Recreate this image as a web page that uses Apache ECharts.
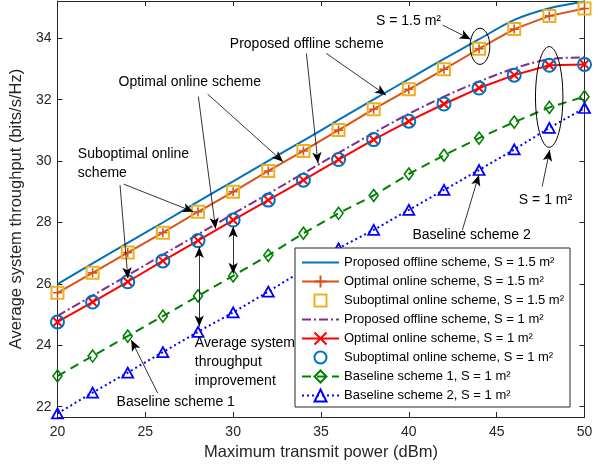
<!DOCTYPE html>
<html><head><meta charset="utf-8">
<script src="https://cdn.jsdelivr.net/npm/echarts@6/dist/echarts.min.js"></script>
<style>html,body{margin:0;padding:0;background:#fff}#c{width:605px;height:469px}</style>
</head><body><div id="c"></div>
<script>
// ---------- data ----------
const powerDbm = [20,22,24,26,28,30,32,34,36,38,40,42,44,46,48,50];
const offline15    = [25.99,26.67,27.34,28.00,28.68,29.34,30.01,30.67,31.34,32.01,32.67,33.33,33.97,34.60,34.98,35.20];
const optimal15    = [25.71,26.36,27.02,27.67,28.35,29.00,29.68,30.33,31.01,31.69,32.34,32.99,33.66,34.30,34.73,34.97];
const suboptimal15 = [25.71,26.36,27.02,27.67,28.35,29.00,29.68,30.33,31.01,31.69,32.34,32.99,33.66,34.30,34.73,34.97];
const offline1     = [24.96,25.62,26.28,26.95,27.61,28.28,28.94,29.60,30.27,30.92,31.54,32.10,32.59,33.02,33.32,33.38];
const optimal1     = [24.76,25.41,26.07,26.75,27.41,28.08,28.73,29.38,30.05,30.70,31.30,31.86,32.38,32.80,33.12,33.15];
const suboptimal1  = [24.76,25.41,26.07,26.75,27.41,28.08,28.73,29.38,30.05,30.70,31.30,31.86,32.38,32.80,33.12,33.15];
const baseline1    = [23.00,23.65,24.30,24.95,25.61,26.26,26.93,27.65,28.30,28.88,29.58,30.19,30.75,31.27,31.75,32.10];
const baseline2    = [21.78,22.46,23.11,23.78,24.44,25.07,25.75,26.45,27.16,27.76,28.41,29.06,29.71,30.38,31.08,31.73];
const seriesNames = [
  'Proposed offline scheme, S = 1.5 m²',
  'Optimal online scheme, S = 1.5 m²',
  'Suboptimal online scheme, S = 1.5 m²',
  'Proposed offline scheme, S = 1 m²',
  'Optimal online scheme, S = 1 m²',
  'Suboptimal online scheme, S = 1 m²',
  'Baseline scheme 1, S = 1 m²',
  'Baseline scheme 2, S = 1 m²'
];
const xTicks = [20,25,30,35,40,45,50];
const yTicks = [22,24,26,28,30,32,34];
const xLabel = 'Maximum transmit power (dBm)';
const yLabel = 'Average system throughput (bits/s/Hz)';
// annotations (data coordinates)
const annotLabels = ['Proposed offline scheme','Optimal online scheme','Suboptimal online\nscheme',
  'Average system\nthroughput\nimprovement','Baseline scheme 1','Baseline scheme 2','S = 1.5 m²','S = 1 m²'];
const annotPos = [[34.19,33.81],[27.53,32.57],[21.16,29.91],[27.82,23.45],[26.73,22.16],[43.57,27.59],[39.98,34.55],[47.78,28.73]];
const annotAlign = ['center','center','left','left','center','center','center','center'];
const arrowsSingle = [
  [[35.30,33.51],[38.70,32.15]],
  [[34.17,33.51],[34.83,29.93]],
  [[28.02,32.10],[29.00,27.80]],
  [[28.55,32.18],[32.84,29.98]],
  [[23.77,29.25],[27.74,28.35]],
  [[23.56,29.22],[24.01,26.18]],
  [[25.71,22.44],[24.20,24.17]],
  [[43.05,27.76],[43.99,29.55]],
  [[41.92,34.43],[43.52,33.97]],
  [[47.59,29.17],[48.02,30.36]]
];
const arrowsDouble = [
  [[28.07,27.20],[28.07,24.61]],
  [[30.00,27.87],[30.00,26.33]]
];
const ellipses = [[44.05,33.74,0.56,0.59],[47.99,32.09,0.78,1.64]];

// ---------- chart ----------
const FONT = 'Liberation Sans';
const AX = '#262626';
const pair = ys => powerDbm.map((x,i)=>[x, ys[i]]);
const T = 'rgba(0,0,0,0)';
const PLUS = 'path://M0,-1L0,1M-1,0L1,0';
const CROSS = 'path://M-1,-1L1,1M1,-1L-1,1';
const HEAD = [7,11];

const arrowData = [];
arrowsSingle.forEach(a => arrowData.push([
  {coord:a[0], symbol:'none'},
  {coord:a[1], symbol:'arrow', symbolSize:HEAD}
]));
arrowsDouble.forEach(a => arrowData.push([
  {coord:a[0], symbol:'arrow', symbolSize:HEAD},
  {coord:a[1], symbol:'arrow', symbolSize:HEAD}
]));

const yMin = 21.665, yMax = 35.215;
const chart = echarts.init(document.getElementById('c'), null, {renderer:'canvas'});
const axisCommon = {
  axisLine:{show:true, onZero:false, lineStyle:{color:AX, width:1}},
  splitLine:{show:false}
};
chart.setOption({
  animation:false,
  backgroundColor:'#fff',
  grid:{left:55, right:20.5, top:1, bottom:52, containLabel:false},
  xAxis:[
    Object.assign({type:'value', min:20, max:50, interval:5, position:'bottom',
      axisTick:{inside:true, length:5, lineStyle:{color:AX}},
      axisLabel:{color:AX, fontSize:14, fontFamily:FONT, margin:8},
      name:xLabel, nameLocation:'middle', nameGap:26,
      nameTextStyle:{color:AX, fontSize:16.5, fontFamily:FONT}}, axisCommon),
    Object.assign({type:'value', min:20, max:50, interval:5, position:'top',
      axisTick:{inside:true, length:5, lineStyle:{color:AX}},
      axisLabel:{show:false}}, axisCommon)
  ],
  yAxis:[
    Object.assign({type:'value', min:yMin, max:yMax, position:'left',
      axisTick:{inside:true, length:5, lineStyle:{color:AX}, customValues:yTicks},
      axisLabel:{color:AX, fontSize:14, fontFamily:FONT, margin:6, customValues:yTicks},
      name:yLabel, nameLocation:'middle', nameGap:24,
      nameTextStyle:{color:AX, fontSize:16.5, fontFamily:FONT}}, axisCommon),
    Object.assign({type:'value', min:yMin, max:yMax, position:'right',
      axisTick:{inside:true, length:5, lineStyle:{color:AX}, customValues:yTicks},
      axisLabel:{show:false, customValues:yTicks}}, axisCommon)
  ],
  legend:{
    orient:'vertical', left:295, top:248, padding:[5,6,2,6], itemGap:0,
    itemWidth:37, itemHeight:15, borderColor:AX, borderWidth:1, backgroundColor:'#fff',
    selectedMode:false,
    textStyle:{fontSize:13, fontFamily:FONT, color:'#000', lineHeight:19},
    data:seriesNames
  },
  series:[
    {name:seriesNames[0], type:'line', data:pair(offline15), symbol:'none', smooth:0.3,
     lineStyle:{color:'#0072BD', width:2}, itemStyle:{color:T, borderWidth:0},
     markLine:{silent:true, animation:false, label:{show:false}, emphasis:{disabled:true},
       lineStyle:{color:'#000', width:0.8, type:'solid'}, symbol:['none','arrow'], data:arrowData}},
    {name:seriesNames[1], type:'line', data:pair(optimal15), symbol:PLUS, symbolSize:9,
     lineStyle:{color:'#D95319', width:2}, itemStyle:{color:T, borderColor:'#D95319', borderWidth:1.6}},
    {name:seriesNames[2], type:'line', data:pair(suboptimal15), symbol:'rect', symbolSize:12,
     lineStyle:{color:'#EDB120', width:0, opacity:0}, itemStyle:{color:T, borderColor:'#EDB120', borderWidth:2}},
    {name:seriesNames[3], type:'line', data:pair(offline1), symbol:'none', smooth:0.3,
     lineStyle:{color:'#7E2F8E', width:2, type:[9,3,2,3]}, itemStyle:{color:T, borderWidth:0}},
    {name:seriesNames[4], type:'line', data:pair(optimal1), symbol:CROSS, symbolSize:8,
     lineStyle:{color:'#FF0000', width:2}, itemStyle:{color:T, borderColor:'#FF0000', borderWidth:2}},
    {name:seriesNames[5], type:'line', data:pair(suboptimal1), symbol:'circle', symbolSize:13,
     lineStyle:{color:'#0072BD', width:0, opacity:0}, itemStyle:{color:T, borderColor:'#0072BD', borderWidth:2}},
    {name:seriesNames[6], type:'line', data:pair(baseline1), symbol:'diamond', symbolSize:[9,12],
     lineStyle:{color:'#008000', width:2, type:[9,6]}, itemStyle:{color:T, borderColor:'#008000', borderWidth:1.6}},
    {name:seriesNames[7], type:'line', data:pair(baseline2), symbol:'triangle', symbolSize:[11,10],
     lineStyle:{color:'#0000FF', width:2, type:[2,3]}, itemStyle:{color:T, borderColor:'#0000FF', borderWidth:1.8}},
    {name:'ellipses', type:'custom', coordinateSystem:'cartesian2d', silent:true, clip:false, z:5,
     data:ellipses,
     renderItem:(params, api) => {
       const c = api.coord([api.value(0), api.value(1)]);
       const s = api.size([api.value(2), api.value(3)], [api.value(0), api.value(1)]);
       return {type:'ellipse', shape:{cx:c[0], cy:c[1], rx:s[0], ry:s[1]},
               style:{fill:'none', stroke:'#000', lineWidth:1}};
     }},
    {name:'annotations', type:'custom', coordinateSystem:'cartesian2d', silent:true, clip:false, z:5,
     data:annotPos,
     renderItem:(params, api) => {
       const c = api.coord([api.value(0), api.value(1)]);
       return {type:'text', x:c[0], y:c[1],
               style:{text:annotLabels[params.dataIndex], fill:'#000', fontSize:14, fontFamily:FONT,
                      align:annotAlign[params.dataIndex], verticalAlign:'middle', lineHeight:19}};
     }}
  ]
});
</script></body></html>
